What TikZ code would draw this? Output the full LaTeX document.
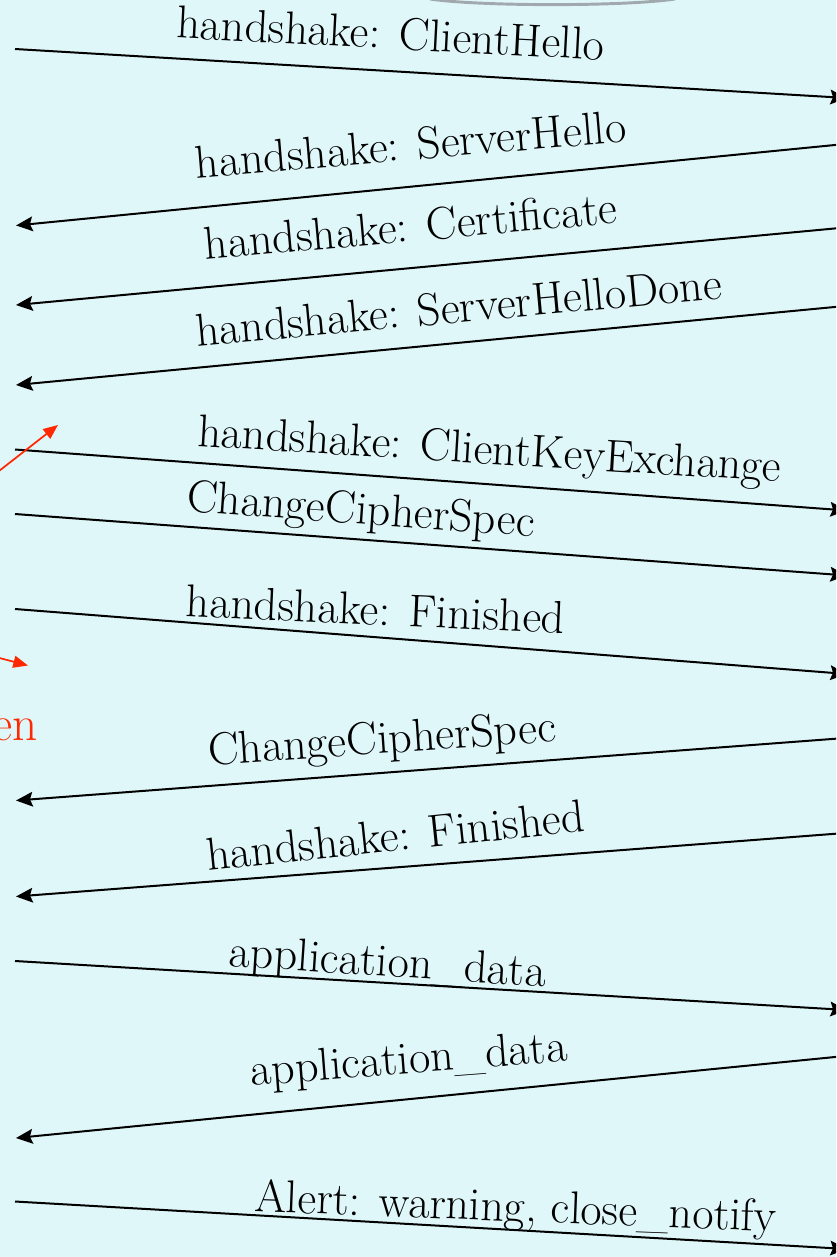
\documentclass[tikz,border=0pt]{standalone}
\usepackage{tikz}
\usetikzlibrary{arrows.meta}
\definecolor{paleCyan}{RGB}{224,247,250}
\definecolor{hintRed}{RGB}{255,40,0}
\definecolor{rimGray}{RGB}{160,170,174}
\tikzset{every picture/.style={line width=0.75pt}}
\tikzset{
  msg/.style={line width=1.5pt, -{Stealth[length=12.5pt,width=11pt,inset=2pt]}},
  hint/.style={draw=hintRed, line width=1.3pt, -{Triangle[length=11pt,width=9pt]}},
  lbl/.style={anchor=base, inner sep=0.75pt, font=\fontsize{34.5}{40}\selectfont}
}

\begin{document}
\begin{tikzpicture}[x=0.75pt,y=0.75pt,yscale=-1,xscale=1]
\useasboundingbox (0,0) rectangle (836,1257);
\clip (0,0) rectangle (836,1257);
%Shape: Background
\fill [paleCyan] (0,0) rectangle (836,1257);
%Curve Lines: rim of the shape above
\draw [rimGray, line width=2.2pt] (430,-1) .. controls (480,6.5) and (625,6.5) .. (675,-1);

%Client side ends
\coordinate (c1) at (15,49);
\coordinate (c2) at (16,225.5);
\coordinate (c3) at (16,305);
\coordinate (c4) at (16,385);
\coordinate (c5) at (15,449.5);
\coordinate (c6) at (15,514);
\coordinate (c7) at (15,609);
\coordinate (c8) at (16,800.5);
\coordinate (c9) at (16,896.5);
\coordinate (c10) at (15,961);
\coordinate (c11) at (16,1138);
\coordinate (c12) at (15,1201.5);
%Server side ends
\coordinate (s1) at (847,98);
\coordinate (s2) at (845,144);
\coordinate (s3) at (845,227.5);
\coordinate (s4) at (845,306);
\coordinate (s5) at (847,510.5);
\coordinate (s6) at (847,575.5);
\coordinate (s7) at (847,674);
\coordinate (s8) at (845,738);
\coordinate (s9) at (845,833);
\coordinate (s10) at (847,1010);
\coordinate (s11) at (845,1056);
\coordinate (s12) at (847,1249);

%Straight Lines
\draw [msg] (c1) -- (s1);
\draw [msg] (s2) -- (c2);
\draw [msg] (s3) -- (c3);
\draw [msg] (s4) -- (c4);
\draw [msg] (c5) -- (s5);
\draw [msg] (c6) -- (s6);
\draw [msg] (c7) -- (s7);
\draw [msg] (s8) -- (c8);
\draw [msg] (s9) -- (c9);
\draw [msg] (c10) -- (s10);
\draw [msg] (s11) -- (c11);
\draw [msg] (c12) -- (s12);

%Red hints
\coordinate (h1a) at (-10,478);
\coordinate (h1b) at (58,425);
\coordinate (h2a) at (-10,655.5);
\coordinate (h2b) at (28,665.5);
\draw [hint] (h1a) -- (h1b);
\draw [hint] (h2a) -- (h2b);

% Text Node
\draw (390,49) node (hello) [lbl, rotate=-3] {handshake: ClientHello};
% Text Node
\draw (412,160) node (srvhello) [lbl, rotate=4.8] {handshake: ServerHello};
% Text Node
\draw (412,241.5) node (cert) [lbl, rotate=5.1] {handshake: Certificate};
% Text Node
\draw (460,322.5) node (srvdone) [lbl, rotate=5.2] {handshake: ServerHelloDone};
% Text Node
\draw (489,464) node (keyx) [lbl, rotate=-3.5] {handshake: ClientKeyExchange};
% Text Node
\draw (360,524) node (ccsC) [lbl, rotate=-4.1] {ChangeCipherSpec};
% Text Node
\draw (375,625) node (finC) [lbl, rotate=-2.5] {handshake: Finished};
% Text Node
\draw (383,753.5) node (ccsS) [lbl, rotate=3.9] {ChangeCipherSpec};
% Text Node
\draw (397,851) node (finS) [lbl, rotate=6] {handshake: Finished};
% Text Node
\draw (387,976.5) node (appC) [lbl, rotate=-3.8] {application\_data};
% Text Node
\draw (410,1073.5) node (appS) [lbl, rotate=4.4] {application\_data};
% Text Node
\draw (515,1221.5) node (alert) [lbl, rotate=-2.2] {Alert: warning, close\_notify};
% Text Node
\draw (39,740) node (hinttxt) [lbl, anchor=base east, text=hintRed, font=\fontsize{37}{42}\selectfont] {en};

\end{tikzpicture}
\end{document}
